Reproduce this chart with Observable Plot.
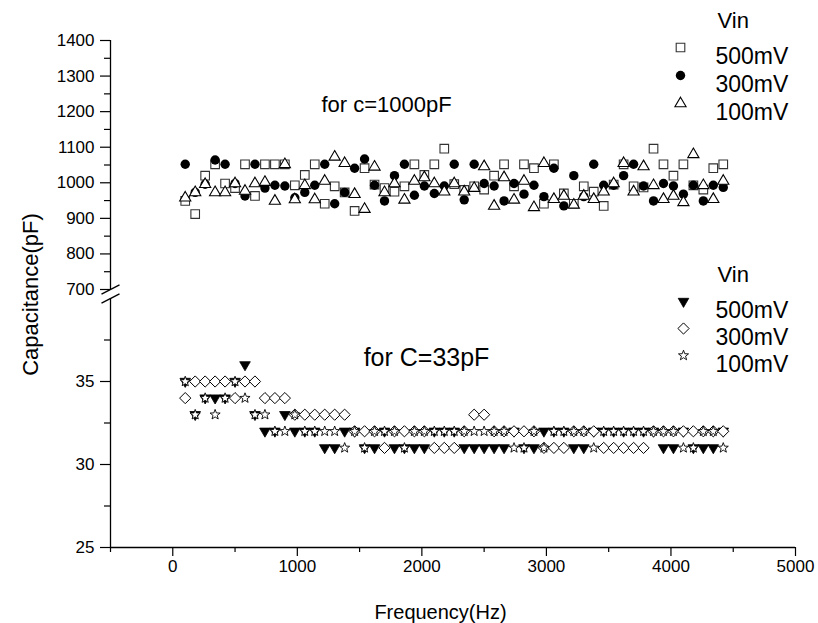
<!DOCTYPE html>
<html>
<head>
<meta charset="utf-8">
<script src="https://cdn.jsdelivr.net/npm/d3@7"></script>
<script src="https://cdn.jsdelivr.net/npm/@observablehq/plot@0.6"></script>
<style>
  html, body { margin: 0; padding: 0; background: #fff; }
  #chart svg { font-family: "Liberation Sans", Arial, sans-serif; display: block; }
</style>
</head>
<body>
<div id="chart"></div>
<script>
// ---- data ----
const freqHz = [100,180,260,340,420,500,580,660,740,820,900,980,1060,1140,1220,1300,1380,1460,1540,1620,1700,1780,1860,1940,2020,2100,2180,2260,2340,2420,2500,2580,2660,2740,2820,2900,2980,3060,3140,3220,3300,3380,3460,3540,3620,3700,3780,3860,3940,4020,4100,4180,4260,4340,4420];

// C = 1000 pF
const c1000_500mV = [949,912,1020,1052,998,985,1052,963,1052,1052,1052,993,1022,1052,941,990,973,921,1041,995,985,975,990,1052,1022,1052,1096,996,980,990,981,1020,1052,990,1052,1041,941,1052,970,941,990,975,935,995,1052,990,987,1096,1052,1020,1052,993,981,1041,1052];
const c1000_300mV = [1052,973,996,1064,1052,998,963,1052,985,993,991,958,973,993,1052,941,973,1041,1067,993,949,1020,1052,965,991,970,991,1052,952,1052,998,991,949,998,968,993,961,1041,935,1020,961,1052,993,993,1020,1052,991,949,998,991,968,993,949,993,987];
const c1000_100mV = [958,973,996,973,973,998,977,998,1002,949,1052,953,993,953,1005,1073,1055,968,926,1045,973,998,952,1005,1015,998,975,998,975,985,1046,935,1015,952,1005,931,1055,954,963,938,963,954,975,998,1055,975,1046,993,954,963,945,1080,993,954,1005];

// C = 33 pF
const c33_500mV = [35,33,34,34,34,35,36,33,32,32,33,32,32,32,31,31,32,32,31,31,32,31,31,31,31,32,32,32,31,31,31,31,31,32,31,31,32,32,32,31,31,32,32,32,32,32,32,32,31,31,32,31,31,31,32];
const c33_300mV = [34,35,35,35,35,34,35,35,34,34,34,33,33,33,33,33,33,32,32,32,31,32,32,32,32,31,31,31,32,33,33,32,32,32,32,32,31,31,31,32,32,32,31,31,31,31,31,32,32,32,32,32,32,32,32];
const c33_100mV = [35,33,34,33,34,35,34,33,33,32,32,33,32,32,32,32,31,32,31,32,32,32,31,32,32,32,32,32,32,32,32,32,32,31,31,32,31,32,32,32,32,31,32,32,32,32,32,32,32,32,31,31,32,32,31];

const legendLabels = ["500mV", "300mV", "100mV"];
const legendTitle = "Vin";
const xTickLabels = [0, 1000, 2000, 3000, 4000, 5000];
const xMinorTicks = [-500, 500, 1500, 2500, 3500, 4500];
const yTickLabels = [25, 30, 35, 700, 800, 900, 1000, 1100, 1200, 1300, 1400];
const yMinorTicks = [27.5, 32.5, 37.5, 750, 850, 950, 1050, 1150, 1250, 1350];
const yBreak = [40, 700];   // lower segment top, upper segment bottom
const xDomain = [-500, 5000];
const yLowDomain = [25, 40];
const yHighDomain = [700, 1400];

// ---- tables ----
const toRows = (vals) => freqHz.map((f, i) => ({f, v: vals[i]}));

// ---- symbols ----
const poly = (pts) => ({draw(c) { c.moveTo(pts[0][0], pts[0][1]); for (let i = 1; i < pts.length; i++) c.lineTo(pts[i][0], pts[i][1]); c.closePath(); }});
const symSquare = poly([[-4.3,-4.3],[4.3,-4.3],[4.3,4.3],[-4.3,4.3]]);
const symTriUp = poly([[0,-6.3],[5.6,3.3],[-5.6,3.3]]);
const symTriDown = poly([[-5.3,-3.2],[5.3,-3.2],[0,5.9]]);
const symDiamond = poly([[0,-5.6],[5.6,0],[0,5.6],[-5.6,0]]);
const starPts = [];
for (let i = 0; i < 10; i++) { const a = -Math.PI / 2 + i * Math.PI / 5, r = i % 2 ? 2.2 : 5.3; starPts.push([r * Math.cos(a), r * Math.sin(a)]); }
const symStar = poly(starPts);
const symSlash = {draw(c) { c.moveTo(-9, 4.6); c.lineTo(9, -4.6); }};

const W = 818, H = 623, ML = 110, MR = 23, MT = 40, MB = 76;
const font = 22, legendFont = 23, tickFont = 17;
const plain = d => `${d}`;

const styleUp = [
  {symbol: symSquare, fill: "white", stroke: "#333", strokeWidth: 1.1},
  {symbol: "circle", r: 4.7, fill: "black", stroke: "none"},
  {symbol: symTriUp, fill: "white", stroke: "black", strokeWidth: 1.1}
];
const styleLow = [
  {symbol: symTriDown, fill: "black", stroke: "black", strokeWidth: 0.8},
  {symbol: symDiamond, fill: "white", stroke: "black", strokeWidth: 1},
  {symbol: symStar, fill: "white", stroke: "black", strokeWidth: 0.9}
];
const seriesUp = [c1000_500mV, c1000_300mV, c1000_100mV];
const seriesLow = [c33_500mV, c33_300mV, c33_100mV];

const marks = [];
// axis lines (broken y axis)
marks.push(Plot.ruleX([xDomain[0]], {y1: yHighDomain[0], y2: yHighDomain[1], stroke: "black", strokeWidth: 1.3}));
marks.push(Plot.ruleX([xDomain[0]], {y1: yLowDomain[0], y2: yLowDomain[1], stroke: "black", strokeWidth: 1.3}));
marks.push(Plot.ruleY([yLowDomain[0]], {x1: xDomain[0], x2: xDomain[1], stroke: "black", strokeWidth: 1.3}));
marks.push(Plot.dot(yBreak, {x: () => xDomain[0], y: d => d, symbol: symSlash, fill: "none", stroke: "black", strokeWidth: 1.3}));
// ticks
marks.push(Plot.axisX(xTickLabels, {tickSize: 9, tickPadding: 3, fontSize: tickFont, tickFormat: plain, label: null, strokeWidth: 1.2}));
marks.push(Plot.axisX(xMinorTicks, {tickSize: 5, tickFormat: () => "", label: null, strokeWidth: 1.2}));
marks.push(Plot.axisY(yTickLabels, {tickSize: 10, tickPadding: 6, fontSize: tickFont, tickFormat: plain, label: null, strokeWidth: 1.2}));
marks.push(Plot.axisY(yMinorTicks, {tickSize: 6, tickFormat: () => "", label: null, strokeWidth: 1.2}));
// data
seriesUp.forEach((vals, i) => marks.push(Plot.dot(toRows(vals), {x: "f", y: "v", ...styleUp[i]})));
seriesLow.forEach((vals, i) => marks.push(Plot.dot(toRows(vals), {x: "f", y: "v", ...styleLow[i]})));

// annotations
const at = (px, py) => ({frameAnchor: "top-left", dx: px - ML, dy: py - MT});
marks.push(Plot.text(["for c=1000pF"], {...at(386, 96), text: d => d, fontSize: font, textAnchor: "middle", fill: "black"}));
marks.push(Plot.text(["for C=33pF"], {...at(426, 348), text: d => d, fontSize: 25, textAnchor: "middle", fill: "black"}));
marks.push(Plot.text(["Capacitance(pF)"], {...at(22, 294), text: d => d, fontSize: font, rotate: -90, textAnchor: "middle", fill: "black"}));
marks.push(Plot.text(["Frequency(Hz)"], {...at(440, 604), text: d => d, fontSize: 20, textAnchor: "middle", fill: "black"}));

// legends
function legend(top, rowStep, symX, styles) {
  marks.push(Plot.text([legendTitle], {...at(717, top), text: d => d, fontSize: font, textAnchor: "start", fill: "black"}));
  legendLabels.forEach((lab, i) => {
    const y = top + 35 + i * rowStep;
    const s = styles[i];
    marks.push(Plot.dot([lab], {...at(symX, y), ...s}));
    marks.push(Plot.text([lab], {...at(715, y), text: d => d, fontSize: legendFont, textAnchor: "start", fill: "black"}));
  });
}
legend(12, 28, 680, styleUp);
legend(266, 27, 683, styleLow);

const chart = Plot.plot({
  width: W, height: H,
  marginLeft: ML, marginRight: MR, marginTop: MT, marginBottom: MB,
  style: {fontFamily: "'Liberation Sans', Arial, sans-serif", background: "white", color: "black", overflow: "visible"},
  x: {domain: xDomain, range: [ML, W - MR]},
  y: {type: "linear", domain: [yLowDomain[0], yLowDomain[1], yHighDomain[0], yHighDomain[1]], range: [H - MB, 298, 289, MT]},
  marks
});
document.getElementById("chart").appendChild(chart);
</script>
</body>
</html>
